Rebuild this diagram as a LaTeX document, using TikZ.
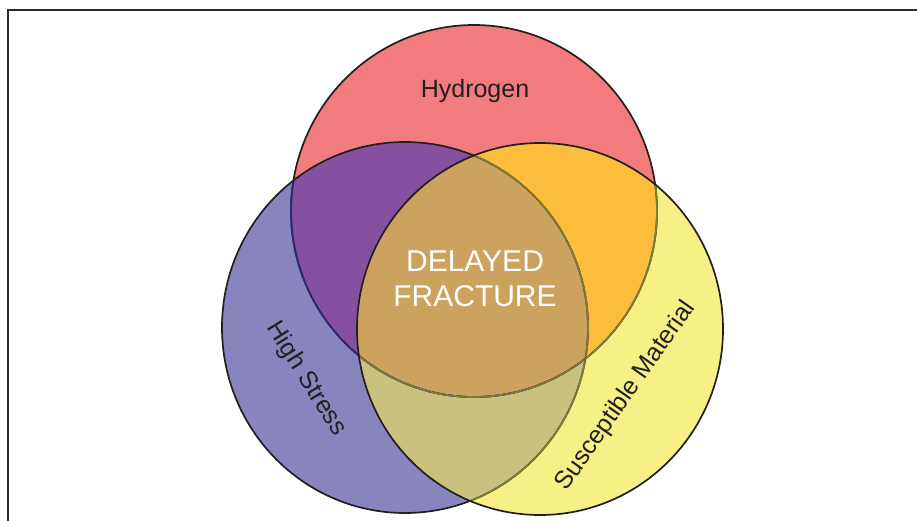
\documentclass[tikz,border=0pt]{standalone}
\usepackage{fontspec}
\setmainfont{Liberation Sans}
\definecolor{pinkf}{HTML}{F27B7E}
\definecolor{lavf}{HTML}{8884BE}
\definecolor{yelf}{HTML}{F7F086}
\definecolor{purf}{HTML}{874FA0}
\definecolor{oraf}{HTML}{FDBD3C}
\definecolor{khaf}{HTML}{C9C27F}
\definecolor{tanf}{HTML}{CBA35E}
\definecolor{ink}{HTML}{231F20}
\definecolor{navyl}{HTML}{2B2A7A}
\definecolor{olivel}{HTML}{7F7B38}
\definecolor{framec}{HTML}{2A2A2A}
\begin{document}
\begin{tikzpicture}[x=1pt,y=-1pt,
  circ/.style={line width=1.7pt},
  lab/.style={text=ink, font=\fontsize{25}{30}\selectfont, inner sep=0pt},
  centre/.style={text=white, font=\fontsize{30}{35}\selectfont, align=center, inner sep=0pt}]
\useasboundingbox (0,0) rectangle (917,521);
\def\RedC{(474,211) ellipse [x radius=183, y radius=186]}
\def\BlueC{(405,327.5) ellipse [x radius=183, y radius=185.5]}
\def\YelC{(540,329) ellipse [x radius=183, y radius=186]}
% fills
\fill[pinkf] \RedC;
\fill[lavf] \BlueC;
\fill[yelf] \YelC;
\begin{scope}
  \clip \RedC;
  \fill[purf] \BlueC;
  \fill[oraf] \YelC;
\end{scope}
\begin{scope}
  \clip \BlueC;
  \fill[khaf] \YelC;
\end{scope}
\begin{scope}
  \clip \RedC;
  \clip \BlueC;
  \fill[tanf] \YelC;
\end{scope}
% outlines
\draw[circ, ink] \RedC;
\begin{scope}
  \clip \BlueC;
  \draw[circ, navyl] \RedC;
\end{scope}
\begin{scope}
  \clip \YelC;
  \draw[circ, olivel] \RedC;
\end{scope}
\draw[circ, ink] \BlueC;
\begin{scope}
  \clip \YelC;
  \draw[circ, olivel] \BlueC;
\end{scope}
\draw[circ, ink] \YelC;
% frame
\draw[line width=2pt, framec] (7.5,521) -- (7.5,10.5) -- (917,10.5);
% texts
\node[lab, anchor=base] (hyd) at (475,98) {Hydrogen};
\node[centre] (df) at (475,278.5) {DELAYED\\FRACTURE};
\node[lab, rotate=-58] (hs) at (306,379) {High Stress};
\node[lab, rotate=55] (sm) at (626,396) {Susceptible Material};
\end{tikzpicture}
\end{document}
